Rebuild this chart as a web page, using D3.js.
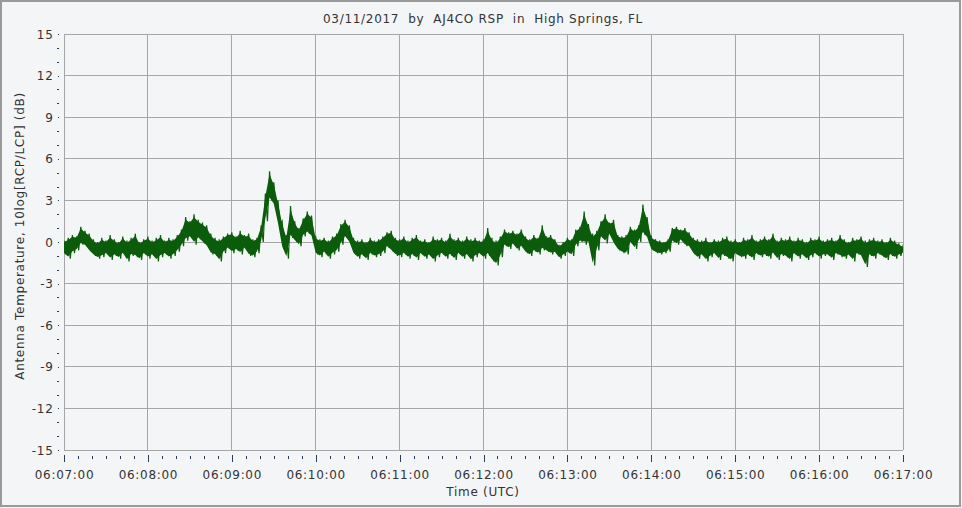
<!DOCTYPE html>
<html><head><meta charset="utf-8">
<script src="https://cdn.jsdelivr.net/npm/d3@7"></script>
<style>
html,body{margin:0;padding:0;background:#f4f5f7;}
svg{display:block;}
text{font-family:"DejaVu Sans",Verdana,sans-serif;fill:#333;letter-spacing:0.7px;}
</style></head><body>
<script>
// ---- data ----
const titleText = "03/11/2017  by  AJ4CO RSP  in  High Springs, FL";
const xTitle = "Time (UTC)";
const yTitle = "Antenna Temperature, 10log[RCP/LCP] (dB)";
const startTime = "06:07:00";
const xTickLabels = ["06:07:00","06:08:00","06:09:00","06:10:00","06:11:00","06:12:00","06:13:00","06:14:00","06:15:00","06:16:00","06:17:00"];
const yTicks = [-15,-12,-9,-6,-3,0,3,6,9,12,15];
const yDomain = [-15, 15];
const stepSeconds = 3; // each pair below covers 3 s: [upper swing, lower swing]
const hiValues = [
 0.1,0.3,0.5,0.4,1.1,0.8,0.6,0.2,0.0,
 0.3,0.1,0.5,0.2,0.0,0.4,0.1,0.3,0.6,0.0,0.2,0.4,0.1,0.3,0.5,0.1,0.3,0.2,
 0.5,0.9,
 1.8,1.5,2.0,1.6,1.4,
 1.2,0.6,
 0.3,0.2,0.4,
 0.6,0.7,0.4,0.8,0.5,0.6,0.2,0.3,
 1.2,3.5,5.1,4.3,3.0,1.5,0.5,2.6,1.5,1.0,1.7,2.2,1.9,0.4,
 0.2,0.3,0.1,0.4,0.6,
 1.3,1.6,1.2,0.3,
 0.1,0.2,0.0,0.3,0.1,0.2,0.4,
 0.7,0.8,0.3,
 0.2,0.4,0.1,0.3,0.5,0.1,0.2,0.0,0.4,0.2,0.3,0.1,0.6,0.2,0.3,0.1,0.4,0.2,0.3,0.1,
 0.2,1.0,0.3,0.1,0.4,
 0.9,0.7,0.8,0.6,0.9,
 0.4,0.2,0.5,0.3,1.2,
 0.4,0.5,0.2,
 -0.2,0.0,
 0.3,0.2,
 0.9,1.1,2.2,1.3,
 0.6,0.8,
 1.5,2.0,1.4,1.6,
 0.5,0.4,
 0.5,
 1.1,0.9,1.2,
 2.7,1.8,
 0.4,0.2,0.1,0.0,0.2,
 1.0,1.1,0.9,1.0,0.7,
 0.3,0.2,0.1,0.3,0.0,0.2,0.1,0.3,0.4,0.1,0.2,0.0,0.3,0.2,0.5,0.1,0.2,
 0.4,0.2,0.6,0.1,0.3,0.2,0.4,0.1,0.3,0.2,0.0,0.3,0.2,0.4,0.1,0.2,0.3,0.1,0.5,0.2,
 0.0,0.3,0.2,0.4,0.1,0.2,0.3,0.1,0.2,0.0,0.3,0.1,-0.1,-0.3
];
const loValues = [
 -0.9,-1.2,-0.8,-0.6,-0.2,-0.3,-0.7,-1.0,-1.2,
 -1.1,-0.9,-1.3,-1.0,-1.2,-0.9,-1.4,-1.0,-1.1,-1.3,-0.9,-1.2,-1.0,-1.4,-1.1,-0.9,-1.2,-1.0,
 -0.7,-0.3,
 0.1,0.3,-0.2,0.2,-0.1,
 -0.4,-0.9,
 -1.0,-1.4,-0.8,
 -0.5,-0.8,-0.6,-0.9,-0.5,-1.0,-1.1,-0.8,
 0.0,1.5,3.0,2.6,1.2,-0.5,-1.2,0.3,0.0,-0.3,0.4,0.6,0.3,-0.9,
 -1.1,-0.8,-1.2,-0.9,-0.7,
 -0.2,0.3,-0.1,-0.9,
 -1.2,-1.0,-1.3,-0.9,-1.1,-1.0,-0.8,
 -0.4,-0.7,-1.0,
 -1.1,-0.9,-1.2,-1.0,-1.3,-0.9,-1.2,-1.0,-1.4,-1.1,-0.9,-1.2,-1.0,-1.3,-0.9,-1.2,-1.0,-1.4,-1.1,-0.9,
 -1.2,-1.0,-1.4,-1.7,-1.1,
 -0.3,-0.5,-0.2,-0.6,-0.4,
 -0.8,-1.0,-0.7,-0.9,-0.6,
 -0.7,-0.9,-0.8,
 -1.2,-1.0,
 -0.8,-1.0,
 -0.3,0.0,-0.2,-0.1,
 -1.7,-0.6,
 0.3,-0.1,0.5,-0.2,
 -0.6,-0.8,
 -0.9,
 -0.1,-0.5,0.0,
 0.5,0.2,
 -0.6,-0.8,-0.9,-0.8,-0.7,
 0.0,-0.2,0.1,-0.3,-0.4,
 -0.9,-1.2,-1.0,-1.4,-1.1,-0.9,-1.3,-1.0,-1.2,-1.4,-0.9,-1.1,-1.2,-1.0,-1.3,-0.9,-1.1,
 -1.0,-1.2,-0.9,-1.3,-1.0,-1.1,-1.4,-0.9,-1.2,-1.0,-1.3,-1.1,-0.9,-1.2,-1.0,-1.0,-1.3,-0.9,-1.1,-1.2,
 -1.0,-1.4,-0.9,-1.1,-1.8,-1.0,-1.2,-0.9,-1.1,-1.3,-1.0,-1.2,-1.0,-0.8
];

// ---- layout ----
const W = 962, H = 508;
const M = {left: 64, top: 34, right: 903, bottom: 450};
const parse = d3.timeParse("%H:%M:%S");
const t0 = parse(startTime);
const tEnd = parse(xTickLabels[xTickLabels.length-1]);
const lineColor = "#0b5c0b";

const svg = d3.select("body").append("svg").attr("width", W).attr("height", H);
svg.append("rect").attr("x",0).attr("y",0).attr("width",W).attr("height",H).attr("fill","#f4f5f7");
svg.append("rect").attr("x",1).attr("y",1).attr("width",959).attr("height",505)
  .attr("fill","none").attr("stroke","#9a9a9a").attr("stroke-width",2);

const x = d3.scaleTime().domain([t0, tEnd]).range([M.left, M.right]);
const y = d3.scaleLinear().domain(yDomain).range([M.bottom, M.top]);

// grid
const xTickDates = xTickLabels.map(s => parse(s));
const grid = svg.append("g").attr("stroke","#a6a6a6").attr("stroke-width",1).attr("shape-rendering","crispEdges");
xTickDates.forEach(d => grid.append("line").attr("x1",x(d)).attr("x2",x(d)).attr("y1",M.top).attr("y2",M.bottom));
yTicks.forEach(v => grid.append("line").attr("x1",M.left).attr("x2",M.right).attr("y1",y(v)).attr("y2",y(v)));

// series
const band = hiValues.map((h,i) => ({t: new Date(+t0 + i*stepSeconds*1000), hi: h, lo: loValues[i]}));
const pts = [];
band.forEach(d => {
  pts.push({t: d.t, v: d.hi});
  pts.push({t: new Date(+d.t + stepSeconds*500), v: d.lo});
});
svg.append("clipPath").attr("id","clip").append("rect")
  .attr("x",M.left).attr("y",M.top).attr("width",M.right-M.left).attr("height",M.bottom-M.top);
const plot = svg.append("g").attr("clip-path","url(#clip)");
// dense core of the noisy trace
plot.append("path").datum(band).attr("fill",lineColor).attr("stroke","none")
  .attr("d", d3.area().x(d=>x(d.t))
    .y0(d=>y(d.lo + (d.hi-d.lo)*0.1)).y1(d=>y(d.hi - (d.hi-d.lo)*0.1)));
// individual swings
plot.append("path").datum(pts)
  .attr("fill","none").attr("stroke",lineColor).attr("stroke-width",1.2)
  .attr("d", d3.line().x(d=>x(d.t)).y(d=>y(d.v)));

// x axis ticks (major + minor every 10 s)
const xAxisG = svg.append("g").attr("shape-rendering","crispEdges");
const minor = d3.timeSecond.every(10).range(t0, +tEnd + 1);
minor.forEach(d => {
  const isMajor = d.getSeconds() === 0;
  xAxisG.append("line").attr("x1",Math.round(x(d))+0.5).attr("x2",Math.round(x(d))+0.5)
    .attr("y1", isMajor ? 455 : 456).attr("y2", isMajor ? 462 : 459)
    .attr("stroke","#2a3a5a").attr("stroke-width",1);
});
xTickDates.forEach((d,i) => {
  svg.append("text").attr("x",x(d)+0.5).attr("y",479).attr("text-anchor","middle")
    .attr("font-size",12).text(xTickLabels[i]);
});

// y axis ticks
for (let v = yDomain[0]; v <= yDomain[1]; v++) {
  const isMajor = yTicks.includes(v);
  svg.append("line").attr("x1", isMajor ? 58 : 57).attr("x2", 59)
    .attr("y1", Math.round(y(v))+0.5).attr("y2", Math.round(y(v))+0.5)
    .attr("stroke","#2a3a5a").attr("stroke-width",1).attr("shape-rendering","crispEdges");
}
yTicks.forEach(v => {
  svg.append("text").attr("x",53.5).attr("y",y(v)+4.5).attr("text-anchor","end")
    .attr("font-size",12).text(v);
});

// titles
svg.append("text").attr("x",483).attr("y",23).attr("text-anchor","middle")
  .attr("font-size",12).style("white-space","pre").text(titleText);
svg.append("text").attr("x",483).attr("y",496).attr("text-anchor","middle")
  .attr("font-size",12).text(xTitle);
svg.append("text").attr("transform","translate(24,236) rotate(-90)").attr("text-anchor","middle")
  .attr("font-size",12).text(yTitle);
</script>
</body></html>
